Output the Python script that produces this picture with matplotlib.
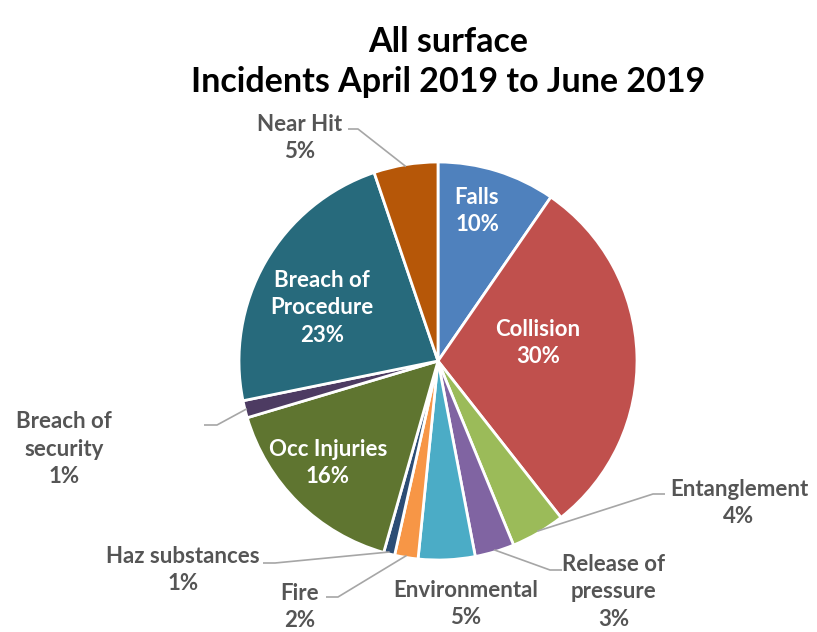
import matplotlib.pyplot as plt
import numpy as np

# data (share of incidents, %)
categories = ['Falls', 'Collision', 'Entanglement', 'Release of\npressure', 'Environmental',
              'Fire', 'Haz substances', 'Occ Injuries', 'Breach of\nsecurity',
              'Breach of\nProcedure', 'Near Hit']
values = [9.6, 29.8, 4.4, 3.2, 4.6, 1.9, 0.9, 16.0, 1.4, 23.0, 5.2]
colors = ['#4F81BD', '#C0504D', '#9BBB59', '#8064A2', '#4BACC6', '#F79646',
          '#2C4D75', '#5F7530', '#4D3B62', '#276A7C', '#B65708']

plt.rcParams['font.family'] = ['Lato', 'DejaVu Sans']

W, H = 817, 632
cx, cy, R = 438, 361, 199   # pie centre / radius in pixels


def px(x, y):
    # pixel position (from top-left) -> data coords of the pie
    return (x - cx) / R, (cy - y) / R


fig = plt.figure(figsize=(W / 100, H / 100), dpi=100)
ax = fig.add_axes([0, 0, 1, 1])

wedges, _ = ax.pie(values, colors=colors, startangle=90, counterclock=False,
                   wedgeprops=dict(edgecolor='white', linewidth=2))
ax.set_xlim(-cx / R, (W - cx) / R)
ax.set_ylim(-(H - cy) / R, cy / R)
ax.set_aspect('auto')
ax.axis('off')

# label placement: (text position, inside?, leader anchor, leader elbow)
label_pos = {
    'Falls': (px(477, 211), True, None, None),
    'Collision': (px(538, 343), True, None, None),
    'Entanglement': (px(739, 503), False, px(665, 494), px(653, 494)),
    'Release of\npressure': (px(614, 592), False, px(562, 570), px(550, 570)),
    'Environmental': (px(466, 604), False, None, None),
    'Fire': (px(300, 607), False, px(326, 597), px(338, 597)),
    'Haz substances': (px(183, 570), False, px(263, 563), px(275, 563)),
    'Occ Injuries': (px(328, 463), True, None, None),
    'Breach of\nsecurity': (px(64, 449), False, px(204, 425), px(217, 425)),
    'Breach of\nProcedure': (px(322, 308), True, None, None),
    'Near Hit': (px(300, 138), False, px(348, 129), px(358, 129)),
}

for w, name, v in zip(wedges, categories, values):
    (tx, ty), inside, anchor, elbow = label_pos[name]
    txt = f"{name}\n{round(v)}%"
    ax.text(tx, ty, txt, ha='center', va='center', fontsize=16, fontweight='bold',
            color='white' if inside else '#555555', linespacing=1.4)
    if anchor is not None:
        ang = np.deg2rad((w.theta1 + w.theta2) / 2)
        ex, ey = np.cos(ang) * 0.99, np.sin(ang) * 0.99
        ax.plot([ex, elbow[0], anchor[0]], [ey, elbow[1], anchor[1]],
                color='#A6A6A6', lw=1.2, solid_capstyle='butt')

fig.text(448 / W, 1 - 62 / H, 'All surface\nIncidents April 2019 to June 2019',
         ha='center', va='center', fontsize=24.5, fontweight='bold', color='black',
         linespacing=1.3)

fig.savefig('out.png', dpi=100)
